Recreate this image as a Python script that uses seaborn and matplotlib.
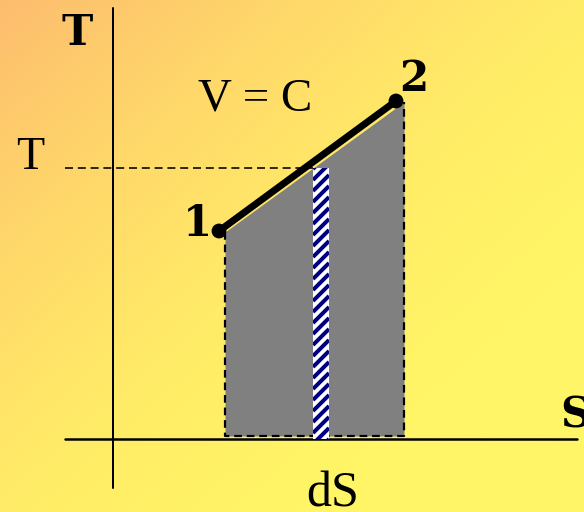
import numpy as np
import matplotlib
matplotlib.use("Agg")
import matplotlib.pyplot as plt
from matplotlib.colors import LinearSegmentedColormap
import seaborn as sns

# state points on the constant-volume line (S, T), origin at the axes cross
S_state = [106, 283]
T_state = [208, 338]
state_labels = ["1", "2"]

# area under the process curve
area_S = [112, 291]
area_T_top = [207, 337]
area_T_bottom = 3

# the small strip dS at temperature T
dS = [200, 216]
T_mid = 271

# axis extents
S_axis = [-48, 464]
T_axis = [-49, 431]

sns.set_style("white")

fig = plt.figure(figsize=(584 / 72, 512 / 72), dpi=72)
ax = fig.add_axes([0, 0, 1, 1])
ax.axis("off")

# background gradient, orange top-left to yellow bottom-right
gx, gy = np.meshgrid(np.linspace(0, 1, 200), np.linspace(0, 1, 200))
grad = np.clip((gx + gy) / 1.5, 0, 1)
cmap = LinearSegmentedColormap.from_list(
    "bg", ["#fdbd6e", "#ffd86a", "#ffec67", "#fff566"])
ax.imshow(grad, extent=[-113, 471, -73, 439], cmap=cmap, aspect="auto",
          zorder=0, origin="upper")
ax.set_xlim(-113, 471)
ax.set_ylim(-73, 439)

# axes
ax.plot([0, 0], T_axis, color="black", lw=2, zorder=2)
ax.plot(S_axis, [0, 0], color="black", lw=2.5, zorder=2)

# gray area under the line
ax.fill_between(area_S, area_T_top, area_T_bottom, color="#808080",
                lw=0, zorder=3)
ax.plot([area_S[0], area_S[0], area_S[1], area_S[1]],
        [area_T_top[0], area_T_bottom, area_T_bottom, area_T_top[1]],
        color="black", lw=2.2, linestyle=(0, (3.5, 2.2)), zorder=4)

# hatched strip dS: white strip with navy diagonal stripes
strip = ax.fill_between(dS, [T_mid, T_mid], 0, facecolor="white", lw=0,
                        zorder=5)
period = 11
width = dS[1] - dS[0]
for c in np.arange(-width, T_mid + period, period):
    ln, = ax.plot(dS, [c, c + width], color="#000080", lw=4,
                  solid_capstyle="butt", zorder=5.5)
    ln.set_clip_path(strip.get_paths()[0], ax.transData)

# T level
ax.plot([S_axis[0], dS[0]], [T_mid, T_mid], color="black", lw=1.6,
        linestyle=(0, (5, 3)), zorder=4)

# process line 1-2
sns.lineplot(x=S_state, y=T_state, color="black", linewidth=7, ax=ax,
             zorder=6, sort=False)
sns.scatterplot(x=S_state, y=T_state, color="black", s=220, ax=ax,
                zorder=7, edgecolor="none")

bold_font = "DejaVu Serif"
thin_font = "Liberation Serif"
ax.text(S_state[0] - 22, T_state[0] + 7, state_labels[0], family=bold_font,
        weight="bold", fontsize=42, ha="center", va="center", zorder=8,
        color="black")
ax.text(S_state[1] + 18, T_state[1] + 22, state_labels[1], family=bold_font,
        weight="bold", fontsize=42, ha="center", va="center", zorder=8,
        color="black")

ax.text(-36, 406, "T", family=bold_font, weight="bold", fontsize=42,
        ha="center", va="center", color="black")
ax.text(462, 23, "S", family=bold_font, weight="bold", fontsize=42,
        ha="center", va="center", color="black")
ax.text(-83, 281, "T", family=thin_font, fontsize=46, ha="center",
        va="center", color="black")
ax.text(220, -55, "dS", family=thin_font, fontsize=50, ha="center",
        va="center", color="black")
ax.text(142, 340, "V = C", family="Liberation Serif", fontsize=47,
        ha="center", va="center", color="black")

fig.savefig("out.png", dpi=72)
